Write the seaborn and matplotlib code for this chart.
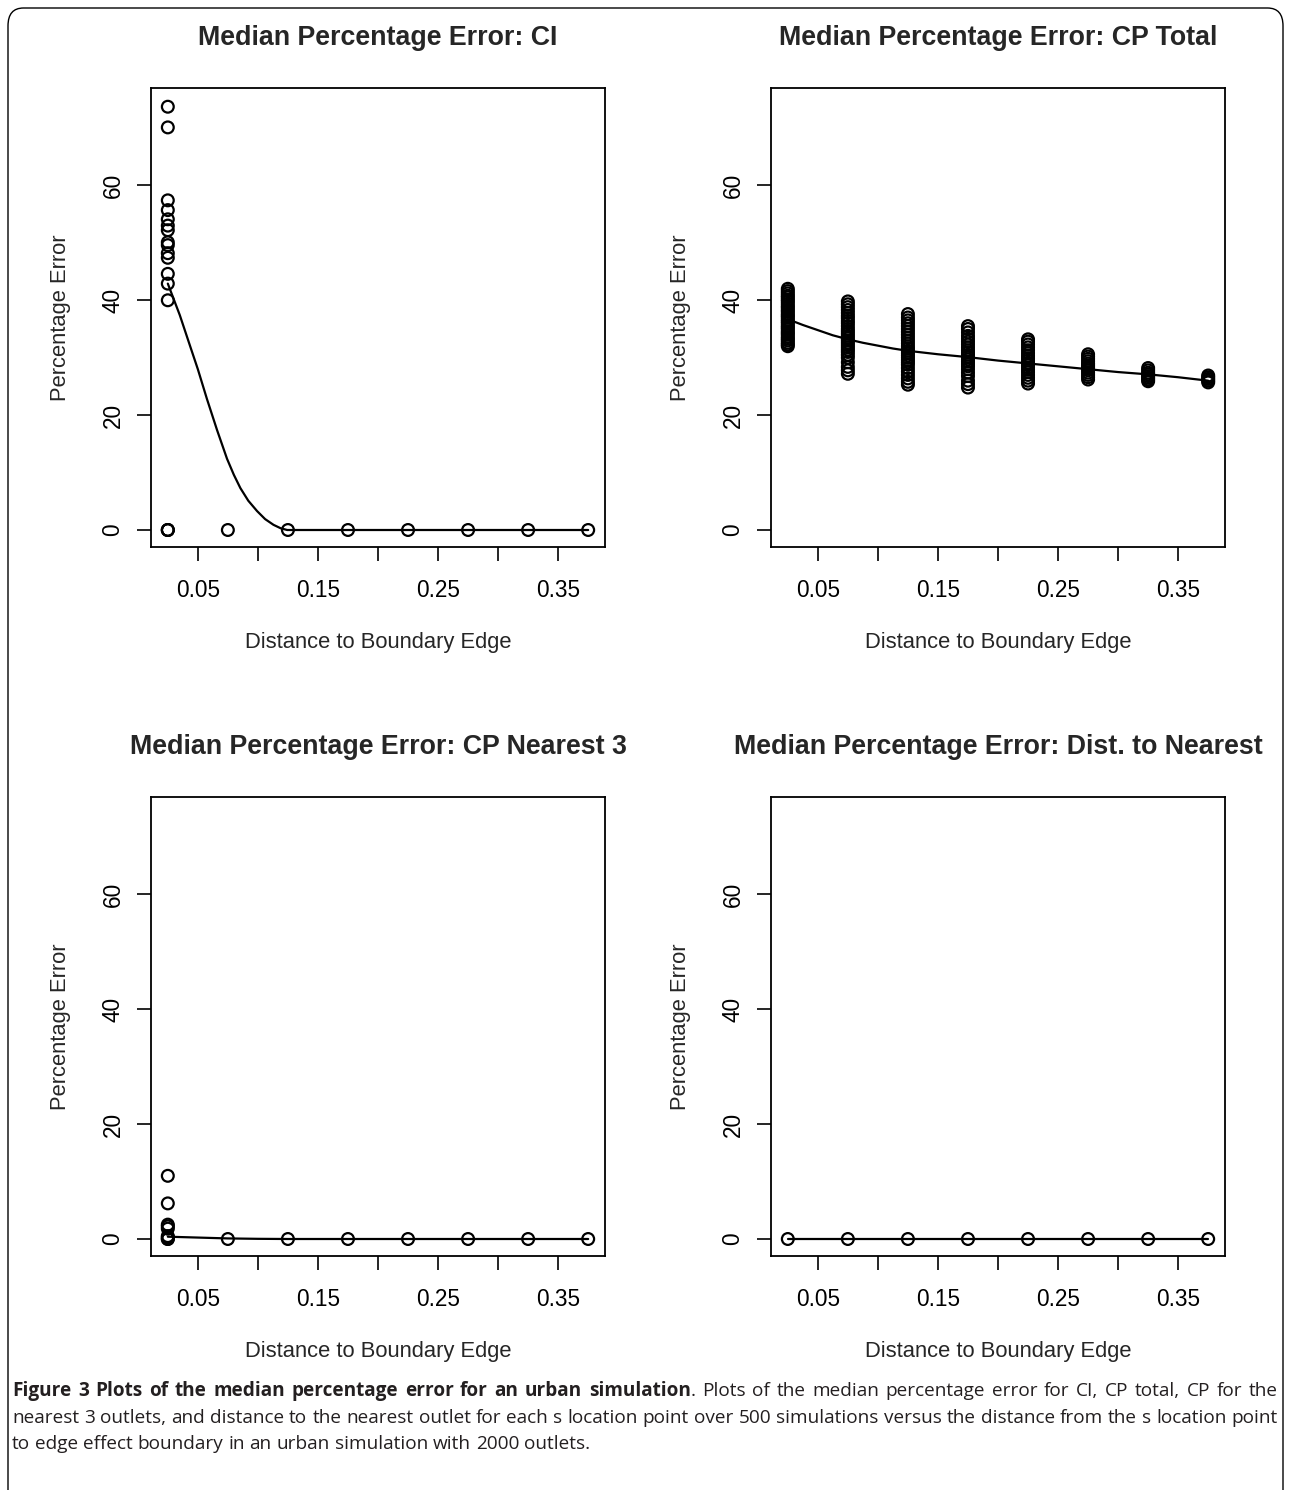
import matplotlib
matplotlib.use('Agg')
import matplotlib.pyplot as plt
import seaborn as sns
import pandas as pd
from matplotlib.patches import FancyBboxPatch

# distances of the s location points to the boundary edge
dist = [0.025, 0.075, 0.125, 0.175, 0.225, 0.275, 0.325, 0.375]

# CI: points
ci_x = [0.025] * 17 + [0.075, 0.125, 0.175, 0.225, 0.275, 0.325, 0.375]
ci_y = [73.7, 70.1, 57.4, 55.7, 54.1, 53.0, 52.2, 50.1, 49.6, 48.2, 47.4,
        44.6, 42.9, 40.0, 0.0, 0.0, 0.0,
        0.0, 0.0, 0.0, 0.0, 0.0, 0.0, 0.0]
ci_fit_x = [0.025, 0.035, 0.0436, 0.05, 0.0576, 0.066, 0.0743, 0.08, 0.0854, 0.092,
            0.0993, 0.106, 0.113, 0.119, 0.1244, 0.175, 0.225, 0.275, 0.325, 0.375]
ci_fit_y = [42.9, 37.4, 32.0, 28.0, 22.8, 17.4, 12.4, 9.6, 7.3, 5.1,
            3.3, 1.9, 0.9, 0.3, 0.0, 0.0, 0.0, 0.0, 0.0, 0.0]

# CP total: one list per distance
cpt_cols = [
    [42, 41.6, 41.2, 40.8, 40.5, 40.1, 39.8, 39.4, 39, 38.7, 38.3, 38, 37.6, 37.3, 37,
     36.6, 36.3, 36, 35.6, 35.3, 35, 34.6, 34.3, 34, 33.6, 33.3, 33, 32.6, 32.3, 32],
    [39.8, 39.3, 38.8, 38.3, 37.8, 37.3, 36.9, 36.4, 36, 35.5, 35, 34.6, 34.2, 33.8,
     33.4, 33, 32.6, 32.2, 31.8, 31.4, 31, 30.5, 30, 29.2, 28.4, 27.8, 27.2],
    [37.6, 37, 36.5, 36, 35.5, 35, 34.5, 34, 33.5, 33, 32.5, 32, 31.6, 31.2, 30.8,
     30.4, 30, 29.6, 29.2, 28.8, 28.2, 27.6, 27, 26.4, 25.8, 25.3],
    [35.5, 35, 34.4, 33.8, 33.3, 32.8, 32.3, 31.8, 31.3, 30.9, 30.5, 30.1, 29.7, 29.3,
     28.9, 28.5, 28, 27.4, 26.8, 26, 25.4, 24.8],
    [33.2, 32.8, 32.3, 31.8, 31.3, 30.8, 30.3, 29.9, 29.5, 29.1, 28.7, 28.3, 27.9,
     27.5, 27, 26.5, 26, 25.5],
    [30.6, 30.2, 29.8, 29.4, 29, 28.7, 28.4, 28.1, 27.8, 27.4, 27, 26.6, 26.2],
    [28.2, 27.8, 27.4, 27.1, 26.8, 26.5, 26.2, 25.9],
    [26.9, 26.6, 26.3, 26, 25.7],
]
cpt_fit_x = [0.025, 0.0375, 0.05, 0.0625, 0.075, 0.0875, 0.1, 0.1125, 0.125, 0.15,
             0.175, 0.2, 0.225, 0.25, 0.275, 0.3, 0.325, 0.35, 0.375]
cpt_fit_y = [36.7, 35.7, 34.8, 33.9, 33.2, 32.6, 32.1, 31.6, 31.2, 30.6,
             30.1, 29.5, 29.0, 28.5, 28.0, 27.5, 27.1, 26.6, 26.0]

# CP nearest 3
cp3_x = [0.025] * 9 + [0.075, 0.125, 0.175, 0.225, 0.275, 0.325, 0.375]
cp3_y = [11.0, 6.2, 2.5, 2.2, 1.8, 0.5, 0.3, 0.0, 0.0,
         0.0, 0.0, 0.0, 0.0, 0.0, 0.0, 0.0]
cp3_fit_x = [0.025, 0.05, 0.075, 0.1, 0.125, 0.175, 0.225, 0.275, 0.325, 0.375]
cp3_fit_y = [0.4, 0.25, 0.1, 0.03, 0.0, 0.0, 0.0, 0.0, 0.0, 0.0]

# distance to nearest
dn_x = dist
dn_y = [0.0, 0.0, 0.0, 0.0, 0.0, 0.0, 0.0, 0.0]
dn_fit_x = dist
dn_fit_y = [0.0, 0.0, 0.0, 0.0, 0.0, 0.0, 0.0, 0.0]

titles = ['Median Percentage Error: CI', 'Median Percentage Error: CP Total',
          'Median Percentage Error: CP Nearest 3', 'Median Percentage Error: Dist. to Nearest']
x_ticks = [0.05, 0.10, 0.15, 0.20, 0.25, 0.30, 0.35]
x_tick_labels = ['0.05', '', '0.15', '', '0.25', '', '0.35']
y_ticks = [0, 20, 40, 60]

sns.set_style('ticks')
plt.rcParams['font.family'] = ['Liberation Sans', 'DejaVu Sans']

cpt_x = []
cpt_y = []
for d, col in zip(dist, cpt_cols):
    cpt_x.extend([d] * len(col))
    cpt_y.extend(col)

panels = [
    (ci_x, ci_y, ci_fit_x, ci_fit_y),
    (cpt_x, cpt_y, cpt_fit_x, cpt_fit_y),
    (cp3_x, cp3_y, cp3_fit_x, cp3_fit_y),
    (dn_x, dn_y, dn_fit_x, dn_fit_y),
]

W, H = 1290, 1490
fig = plt.figure(figsize=(W / 100, H / 100), dpi=100)

# axes boxes in pixels: left, top
boxes = [(151, 88), (771, 88), (151, 797), (771, 797)]
aw, ah = 454, 459

for (px, py), title, (sx, sy, fx, fy) in zip(boxes, titles, panels):
    ax = fig.add_axes([px / W, 1 - (py + ah) / H, aw / W, ah / H])
    pts = pd.DataFrame({'d': sx, 'e': sy})
    fit = pd.DataFrame({'d': fx, 'e': fy})
    sns.lineplot(data=fit, x='d', y='e', ax=ax, color='black', lw=1.6,
                 estimator=None, sort=False, zorder=2)
    sns.scatterplot(data=pts, x='d', y='e', ax=ax, marker='o', s=72,
                    facecolors='none', edgecolor='black', linewidth=1.6, zorder=3)
    ax.set_xlim(0.011, 0.389)
    ax.set_ylim(-2.96, 76.96)
    ax.set_xticks(x_ticks)
    ax.set_xticklabels(x_tick_labels)
    ax.set_yticks(y_ticks)
    ax.set_yticklabels([str(v) for v in y_ticks], rotation=90, va='center')
    ax.tick_params(axis='both', direction='out', length=10, width=1.2,
                   labelsize=16.3, colors='black', pad=9)
    ax.tick_params(axis='x', pad=13)
    for sp in ax.spines.values():
        sp.set_visible(True)
        sp.set_linewidth(1.3)
        sp.set_color('black')
    ax.set_xlabel('Distance to Boundary Edge', fontsize=15.8, labelpad=22)
    ax.set_ylabel('Percentage Error', fontsize=15.8, labelpad=22)
    ax.set_title(title, fontsize=19.3, fontweight='bold', pad=31)

# border around the figure, open at the bottom edge of the image
frame = FancyBboxPatch((8 / W, -30 / H), 1275 / W, 1512 / H,
                       boxstyle='round,pad=0,rounding_size=0.012',
                       transform=fig.transFigure, fill=False,
                       edgecolor='black', linewidth=1.0, clip_on=False)
fig.patches.append(frame)

# caption, justified like the journal layout
cap_font = ['Open Sans', 'DejaVu Sans']
cap_size = 13.7
cap_color = '#231f20'
bold_part = 'Figure 3 Plots of the median percentage error for an urban simulation'
rest1 = '. Plots of the median percentage error for CI, CP total, CP for the'
line2 = ('nearest 3 outlets, and distance to the nearest outlet for each s location point '
         'over 500 simulations versus the distance from the s location point')
line3 = 'to edge effect boundary in an urban simulation with 2000 outlets.'

renderer = fig.canvas.get_renderer()


def seg_width(text, weight):
    t = fig.text(0, 0, text, fontsize=cap_size, fontweight=weight, family=cap_font)
    w = t.get_window_extent(renderer).width
    t.remove()
    return w


def draw_line(words, y, justify):
    # words: list of lists of (text, weight) segments
    widths = [sum(seg_width(s, wt) for s, wt in word) for word in words]
    space = seg_width('a a', 'normal') - seg_width('aa', 'normal')
    if justify and len(words) > 1:
        gap = (1278 - 12 - sum(widths)) / (len(words) - 1)
    else:
        gap = space
    x = 12
    for word, w in zip(words, widths):
        xx = x
        for s, wt in word:
            fig.text(xx / W, 1 - y / H, s, fontsize=cap_size, fontweight=wt,
                     family=cap_font, color=cap_color, va='center', ha='left')
            xx += seg_width(s, wt)
        x += w + gap


bold_words = bold_part.split(' ')
rest_words = rest1.split(' ')
line1_words = [[(w, 'bold')] for w in bold_words[:-1]]
line1_words.append([(bold_words[-1], 'bold'), (rest_words[0], 'normal')])
line1_words += [[(w, 'normal')] for w in rest_words[1:]]

draw_line(line1_words, 1391, True)
draw_line([[(w, 'normal')] for w in line2.split(' ')], 1418, True)
draw_line([[(w, 'normal')] for w in line3.split(' ')], 1444, False)

fig.savefig('out.png', dpi=100)
